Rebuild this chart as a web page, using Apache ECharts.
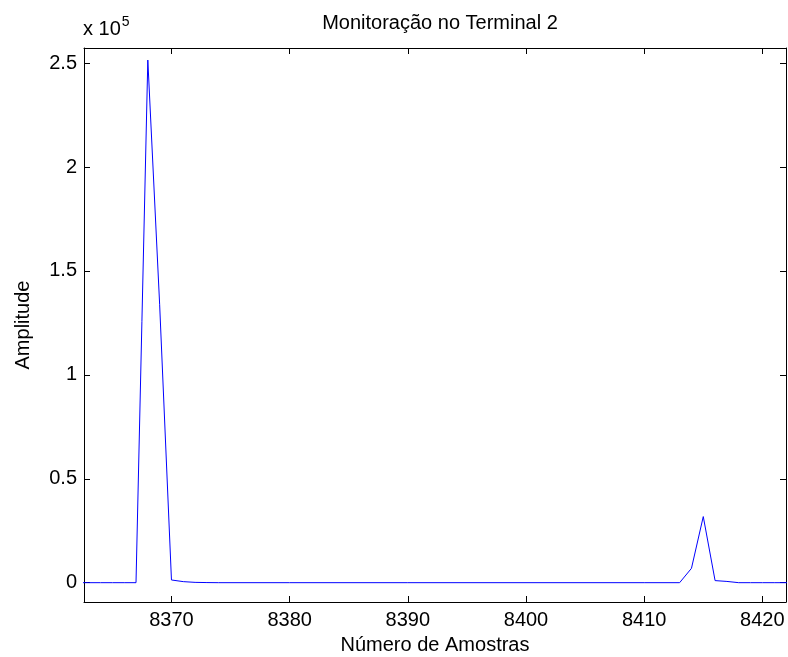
<!DOCTYPE html>
<html>
<head>
<meta charset="utf-8">
<script src="https://cdn.jsdelivr.net/npm/echarts@6/dist/echarts.min.js"></script>
<style>
  html, body { margin: 0; padding: 0; background: #fff; }
  #container { width: 788px; height: 657px; }
</style>
</head>
<body>
<div id="container"></div>
<script>
var dom = document.getElementById('container');
var myChart = echarts.init(dom, null, { renderer: 'canvas' });

// sample index (x) and amplitude (y)
var samples = [8362, 8363, 8364, 8365, 8366, 8367, 8368, 8369, 8370, 8371, 8372, 8373, 8374,
    8380, 8390, 8400, 8410, 8413, 8414, 8415, 8416, 8417, 8418, 8419, 8420, 8421, 8422, 8423];
var amplitude = [0, 0, 0, 0, 0, 0, 251500, 134000, 1300, 500, 150, 50, 0,
    0, 0, 0, 0, 0, 6900, 31800, 1000, 600, 0, 0, 0, 0, 0, 0];

var xTicks = [8370, 8380, 8390, 8400, 8410, 8420];
var yTicks = [0, 50000, 100000, 150000, 200000, 250000];

var font = 'Liberation Sans, Arial, sans-serif';
var fs = 20;

var points = [];
for (let i = 0; i < samples.length; i++) {
    points.push([samples[i], amplitude[i]]);
}

var xMin = 8362.6, xMax = 8422;
var yMin = -9300, yMax = 257300;

function yFmt(v) {
    return String(v / 100000);
}

var option = {
    backgroundColor: '#fff',
    animation: false,
    title: {
        text: 'Monitoração no Terminal 2',
        left: 435,
        top: 8,
        textAlign: 'center',
        textStyle: { fontFamily: font, fontSize: fs, fontWeight: 'normal', color: '#000' }
    },
    graphic: [{
        type: 'text',
        left: 83,
        top: 15,
        style: {
            text: 'x 10{sup|5}',
            fontFamily: font,
            fontSize: fs,
            fill: '#000',
            rich: {
                sup: { fontSize: 14, fontFamily: font, verticalAlign: 'top', padding: [0, 0, 14, 1] }
            }
        }
    }],
    grid: { left: 84, right: 2, top: 48, bottom: 55, outerBoundsMode: 'none', containLabel: false },
    xAxis: [{
        type: 'value',
        min: xMin,
        max: xMax,
        position: 'bottom',
        name: 'Número de Amostras',
        nameLocation: 'middle',
        nameGap: 33,
        nameTextStyle: { fontFamily: font, fontSize: fs, color: '#000' },
        axisLine: { onZero: false, lineStyle: { color: '#000', width: 1 } },
        axisTick: { inside: true, length: 6, customValues: xTicks, lineStyle: { color: '#000' } },
        axisLabel: { customValues: xTicks, formatter: function (v) { return String(v); }, margin: 8, fontFamily: font, fontSize: fs, color: '#000' },
        splitLine: { show: false }
    }, {
        type: 'value',
        min: xMin,
        max: xMax,
        position: 'top',
        axisLine: { onZero: false, lineStyle: { color: '#000', width: 1 } },
        axisTick: { inside: true, length: 6, customValues: xTicks, lineStyle: { color: '#000' } },
        axisLabel: { show: false },
        splitLine: { show: false }
    }],
    yAxis: [{
        type: 'value',
        min: yMin,
        max: yMax,
        position: 'left',
        name: 'Amplitude',
        nameLocation: 'middle',
        nameGap: 51,
        nameTextStyle: { fontFamily: font, fontSize: fs, color: '#000' },
        axisLine: { show: true, onZero: false, lineStyle: { color: '#000', width: 1 } },
        axisTick: { show: true, inside: true, length: 6, customValues: yTicks, lineStyle: { color: '#000' } },
        axisLabel: { customValues: yTicks, formatter: yFmt, margin: 7, fontFamily: font, fontSize: fs, color: '#000' },
        splitLine: { show: false }
    }, {
        type: 'value',
        min: yMin,
        max: yMax,
        position: 'right',
        axisLine: { show: true, onZero: false, lineStyle: { color: '#000', width: 1 } },
        axisTick: { show: true, inside: true, length: 6, customValues: yTicks, lineStyle: { color: '#000' } },
        axisLabel: { show: false },
        splitLine: { show: false }
    }],
    series: [{
        type: 'line',
        data: points,
        xAxisIndex: 0,
        yAxisIndex: 0,
        symbol: 'none',
        clip: true,
        lineStyle: { color: '#0000ff', width: 1 }
    }]
};

myChart.setOption(option);
window.addEventListener('resize', myChart.resize);
</script>
</body>
</html>
